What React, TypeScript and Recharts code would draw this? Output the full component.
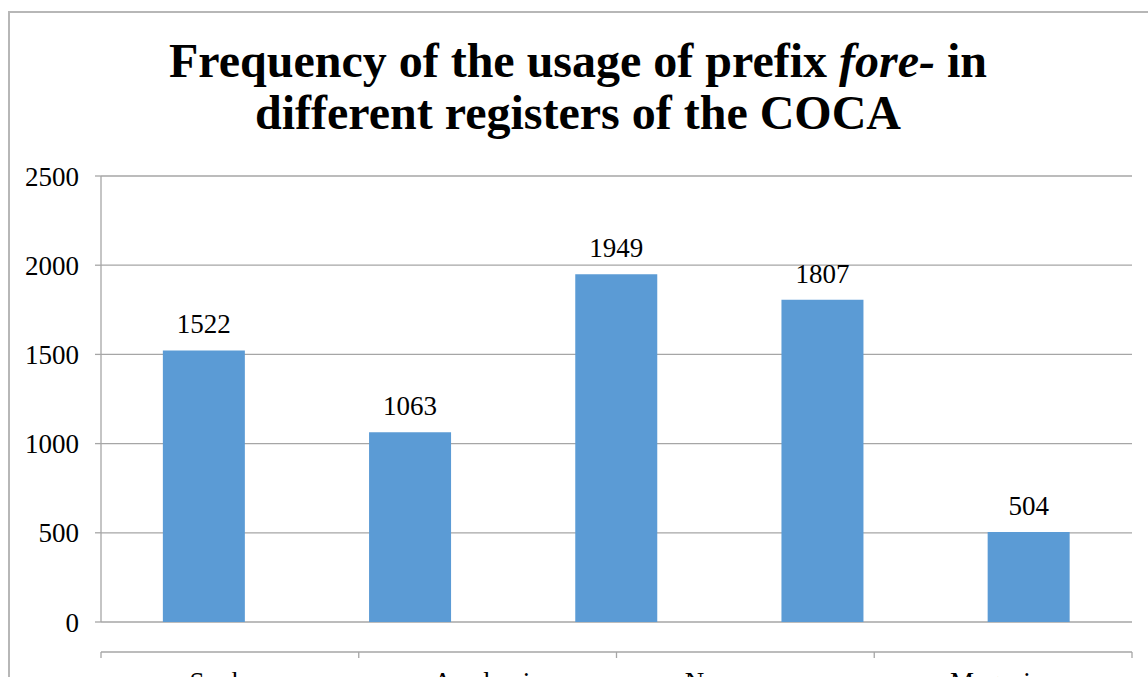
import React from 'react';
import { BarChart, Bar, XAxis, YAxis, CartesianGrid, LabelList } from 'recharts';

const categories = ['Spoken', 'Academic', 'Newspaper', 'Magazine', 'Fiction'];
const frequencies = [1522, 1063, 1949, 1807, 504];
const yTicks = [0, 500, 1000, 1500, 2000, 2500];
// boundaries (integers) get tick marks, band centres (halves) get labels
const xAxisTicks = [0, 0.5, 1, 1.5, 2, 2.5, 3, 3.5, 4, 4.5, 5];

const data = categories.map((c, i) => ({ register: c, value: frequencies[i] }));

const FONT = "'Liberation Serif', 'Times New Roman', serif";
const GRID = '#a6a6a6';

const EdgeTick = (props: any) => {
  const { x, y, payload } = props;
  const v = payload.value as number;
  if (Number.isInteger(v)) {
    return <line x1={x} x2={x} y1={y} y2={y + 6} stroke={GRID} strokeWidth={1.3} />;
  }
  const label = categories[Math.floor(v)];
  return (
    <text
      x={x}
      y={y + 20}
      dy="0.71em"
      textAnchor="middle"
      fill="#000"
      fontSize={27}
      fontFamily={FONT}
    >
      {label}
    </text>
  );
};

export default function App() {
  return (
    <div
      style={{
        position: 'absolute',
        left: 0,
        top: 0,
        width: 1148,
        height: 677,
        overflow: 'hidden',
        background: '#ffffff',
        fontFamily: FONT,
      }}
    >
      <div
        style={{
          position: 'absolute',
          left: 8,
          top: 11,
          width: 1300,
          height: 800,
          border: '2px solid #b7b7b7',
          boxSizing: 'border-box',
        }}
      />
      <div
        style={{
          position: 'absolute',
          left: 11,
          top: 34.8,
          width: 1134,
          textAlign: 'center',
          fontFamily: FONT,
          fontWeight: 'bold',
          fontSize: 48,
          lineHeight: '52px',
          color: '#000',
          whiteSpace: 'nowrap',
        }}
      >
        <div>
          Frequency of the usage of prefix <i>fore-</i> in
        </div>
        <div>different registers of the COCA</div>
      </div>
      <div style={{ position: 'absolute', left: 0, top: 0 }}>
        <BarChart
          width={1148}
          height={677}
          data={data}
          margin={{ top: 176, right: 16, bottom: 0, left: 0 }}
          barCategoryGap="30%"
        >
          <CartesianGrid xAxisId="cat" vertical={false} stroke={GRID} strokeWidth={1.3} />
          <XAxis xAxisId="cat" dataKey="register" hide />
          <XAxis
            xAxisId="edges"
            type="number"
            domain={[0, 5]}
            ticks={xAxisTicks}
            interval={0}
            tick={<EdgeTick />}
            tickLine={false}
            tickSize={0}
            tickMargin={0}
            axisLine={{ stroke: GRID, strokeWidth: 1.3 }}
            height={55}
            allowDataOverflow
          />
          <YAxis
            domain={[0, 2500]}
            ticks={yTicks}
            width={101}
            tickSize={6}
            tickMargin={16}
            axisLine={{ stroke: GRID, strokeWidth: 1.3 }}
            tickLine={{ stroke: GRID, strokeWidth: 1.3 }}
            tick={{ fill: '#000', fontSize: 27, fontFamily: FONT }}
            interval={0}
          />
          <Bar xAxisId="cat" dataKey="value" fill="#5b9bd5" isAnimationActive={false}>
            <LabelList
              dataKey="value"
              position="top"
              offset={17}
              fill="#000"
              fontSize={27}
              fontFamily={FONT}
            />
          </Bar>
        </BarChart>
      </div>
    </div>
  );
}
